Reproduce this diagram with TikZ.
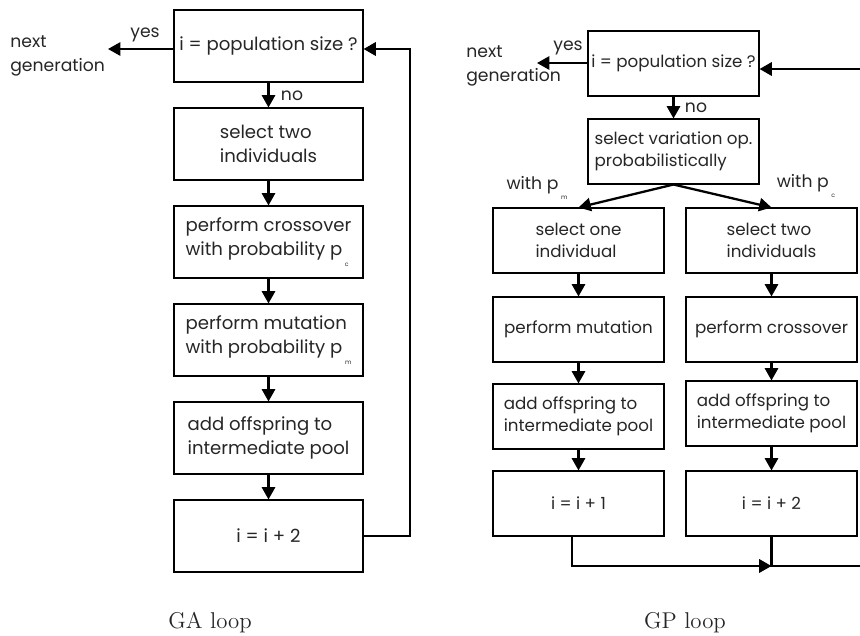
\documentclass[tikz,border=0pt]{standalone}
\usepackage{fontspec}
\newfontfamily\boxfont{Poppins}
\usetikzlibrary{arrows.meta, positioning}

% tiny lowered index as in the original drawing
\newcommand{\pidx}[1]{p\raisebox{-1.1ex}{\hspace{1.5pt}\fontsize{3.5}{4}\selectfont #1}}

\begin{document}
\begin{tikzpicture}[
  x=0.02cm, y=-0.02cm,
  every node/.style={text=black!85},
  gabox/.style={draw, line width=0.6pt, minimum width=3.78cm, minimum height=1.44cm, align=left, inner sep=0pt, font=\boxfont\fontsize{10.3}{13.6}\selectfont},
  gpbox/.style={gabox, minimum width=3.42cm, minimum height=1.3cm, font=\boxfont\fontsize{9.5}{12.6}\selectfont},
  lbl/.style={font=\boxfont\fontsize{9.8}{13.2}\selectfont, align=left, inner sep=0pt},
  flow/.style={-{Triangle[length=7pt, width=7.5pt]}, line width=1.3pt},
  loopline/.style={line width=1.5pt}
]
  \useasboundingbox (0,0) rectangle (860,636);

  % GA loop
  \node[gabox] (ga1) at (268.5, 46) {i = population size ?};
  \node[gabox] (ga2) at (268.5, 144) {select two\\individuals};
  \node[gabox] (ga3) at (268.5, 242) {perform crossover\\with probability \pidx{c}};
  \node[gabox] (ga4) at (268.5, 340) {perform mutation\\with probability \pidx{m}};
  \node[gabox] (ga5) at (268.5, 438) {add offspring to\\intermediate pool};
  \node[gabox] (ga6) at (268.5, 536) {i = i + 2};

  \node[lbl, anchor=west] (ganext) at (10, 56) {next\\generation};
  \node[lbl] (gayes) at (145, 35) {yes};
  \node[lbl] (gano) at (292, 96) {no};
  \coordinate (gaout) at (108, 49);
  \coordinate (garet) at (410, 0);

  \draw[flow] (ga1.west |- gaout) -- (gaout);
  \foreach \a/\b in {ga1/ga2, ga2/ga3, ga3/ga4, ga4/ga5, ga5/ga6}
    \draw[flow] (\a) -- (\b);
  \draw[flow, loopline] (ga6.east) -- (ga6.east -| garet) -- (gaout -| garet) -- (gaout -| ga1.east);

  \node[font=\fontsize{13}{15}\selectfont] (gacap) at (210, 623) {GA loop};

  % GP loop
  \node[gpbox] (gp1) at (673.5, 63.5) {i = population size ?};
  \node[gpbox] (gp2) at (673.5, 151.5) {select variation op.\\probabilistically};
  \node[gpbox] (mu1) at (578.5, 240.5) {select one\\individual};
  \node[gpbox] (mu2) at (578.5, 329.5) {perform mutation};
  \node[gpbox] (mu3) at (578.5, 416.5) {add offspring to\\intermediate pool};
  \node[gpbox] (mu4) at (578.5, 503.5) {i = i + 1};
  \node[gpbox] (co1) at (771.5, 240.5) {select two\\individuals};
  \node[gpbox] (co2) at (771.5, 329.5) {perform crossover};
  \node[gpbox] (co3) at (771.5, 413.5) {add offspring to\\intermediate pool};
  \node[gpbox] (co4) at (771.5, 503.5) {i = i + 2};

  \node[lbl, anchor=west] (gpnext) at (466, 66) {next\\generation};
  \node[lbl] (gpyes) at (568, 48) {yes};
  \node[lbl] (gpno) at (696, 108) {no};
  \node[lbl] (withm) at (537, 188) {with \pidx{m}};
  \node[lbl] (withc) at (806, 186) {with \pidx{c}};
  \coordinate (gpout) at (537, 63);
  \coordinate (gpjoin) at (771.5, 566);
  \coordinate (gpedge) at (860, 566);
  \coordinate (gptop) at (860, 69);

  \draw[flow] (gp1.west |- gpout) -- (gpout);
  \draw[flow] (gp1) -- (gp2);
  \draw[flow] (gp2.south) -- (mu1.north);
  \draw[flow] (gp2.south) -- (co1.north);
  \foreach \a/\b in {mu1/mu2, mu2/mu3, mu3/mu4, co1/co2, co2/co3, co3/co4}
    \draw[flow] (\a) -- (\b);
  \draw[flow, loopline] ([xshift=-0.13cm]mu4.south) |- (gpjoin);
  \draw[loopline] (co4.south) -- (gpjoin) -- (gpedge);
  \draw[flow, loopline] (gptop) -- (gptop -| gp1.east);

  \node[font=\fontsize{13}{15}\selectfont] (gpcap) at (685, 623) {GP loop};
\end{tikzpicture}
\end{document}
